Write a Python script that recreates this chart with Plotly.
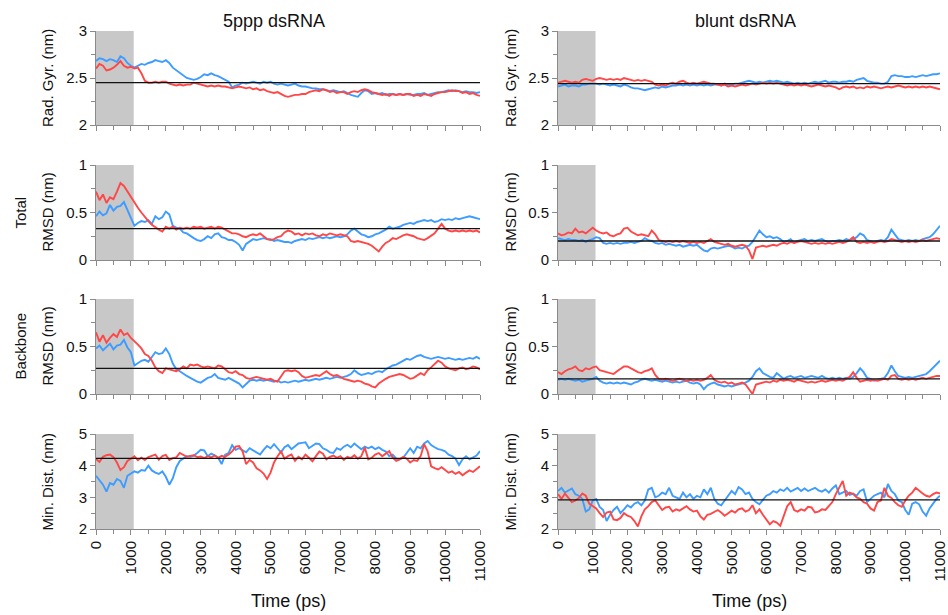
import plotly.graph_objects as go

# ---------------------------------------------------------------- data
time_ps = list(range(0, 11001, 100))
equil_end_ps = 1080

rg_5ppp_blue = [
    2.68, 2.71, 2.70, 2.68, 2.70, 2.69, 2.67, 2.73, 2.71, 2.66,
    2.63, 2.61, 2.63, 2.65, 2.64, 2.66, 2.67, 2.69, 2.68, 2.67,
    2.69, 2.66, 2.61, 2.58, 2.56, 2.53, 2.50, 2.49, 2.48, 2.49,
    2.51, 2.54, 2.53, 2.55, 2.53, 2.52, 2.50, 2.48, 2.46, 2.40,
    2.42, 2.43, 2.45, 2.44, 2.45, 2.46, 2.45, 2.44, 2.46, 2.45,
    2.46, 2.44, 2.43, 2.44, 2.43, 2.42, 2.43, 2.44, 2.42, 2.41,
    2.41, 2.40, 2.39, 2.39, 2.38, 2.38, 2.37, 2.36, 2.37, 2.36,
    2.35, 2.36, 2.34, 2.32, 2.31, 2.30, 2.34, 2.37, 2.36, 2.33,
    2.34, 2.33, 2.34, 2.32, 2.33, 2.33, 2.32, 2.33, 2.32, 2.33,
    2.32, 2.32, 2.33, 2.33, 2.34, 2.32, 2.33, 2.34, 2.35, 2.35,
    2.36, 2.37, 2.36, 2.37, 2.36, 2.35, 2.36, 2.35, 2.35, 2.34, 2.35]
rg_5ppp_red = [
    2.60, 2.65, 2.63, 2.58, 2.59, 2.61, 2.64, 2.68, 2.63, 2.61,
    2.62, 2.60, 2.61, 2.55, 2.47, 2.45, 2.45, 2.46, 2.45, 2.46,
    2.46, 2.44, 2.43, 2.42, 2.43, 2.42, 2.43, 2.43, 2.45, 2.44,
    2.43, 2.42, 2.41, 2.42, 2.41, 2.42, 2.41, 2.41, 2.40, 2.39,
    2.40, 2.41, 2.40, 2.39, 2.40, 2.38, 2.39, 2.37, 2.38, 2.36,
    2.35, 2.34, 2.35, 2.33, 2.31, 2.30, 2.31, 2.32, 2.32, 2.33,
    2.33, 2.35, 2.36, 2.37, 2.36, 2.38, 2.37, 2.35, 2.36, 2.34,
    2.35, 2.35, 2.33, 2.35, 2.36, 2.35, 2.37, 2.38, 2.37, 2.35,
    2.34, 2.33, 2.32, 2.33, 2.31, 2.33, 2.32, 2.33, 2.32, 2.33,
    2.33, 2.31, 2.32, 2.31, 2.33, 2.32, 2.31, 2.33, 2.34, 2.35,
    2.35, 2.36, 2.37, 2.36, 2.36, 2.34, 2.35, 2.33, 2.34, 2.32, 2.31]
rg_blunt_blue = [
    2.41, 2.42, 2.43, 2.41, 2.42, 2.42, 2.41, 2.43, 2.43, 2.44,
    2.44, 2.44, 2.43, 2.44, 2.43, 2.42, 2.43, 2.42, 2.41, 2.43,
    2.42, 2.40, 2.39, 2.39, 2.38, 2.37, 2.38, 2.39, 2.40, 2.39,
    2.41, 2.40, 2.41, 2.42, 2.42, 2.43, 2.42, 2.43, 2.42, 2.43,
    2.42, 2.43, 2.42, 2.43, 2.42, 2.43, 2.43, 2.42, 2.44, 2.43,
    2.43, 2.44, 2.44, 2.45, 2.46, 2.47, 2.46, 2.45, 2.46, 2.45,
    2.46, 2.47, 2.46, 2.47, 2.46, 2.45, 2.46, 2.45, 2.44, 2.45,
    2.44, 2.45, 2.44, 2.45, 2.46, 2.45, 2.46, 2.47, 2.45, 2.46,
    2.46, 2.45, 2.46, 2.46, 2.47, 2.46, 2.48, 2.49, 2.50, 2.47,
    2.46, 2.45, 2.45, 2.44, 2.44, 2.46, 2.52, 2.53, 2.52, 2.52,
    2.51, 2.51, 2.52, 2.51, 2.52, 2.53, 2.52, 2.53, 2.54, 2.54, 2.55]
rg_blunt_red = [
    2.45, 2.46, 2.47, 2.46, 2.45, 2.46, 2.45, 2.48, 2.49, 2.48,
    2.47, 2.49, 2.50, 2.49, 2.48, 2.49, 2.48, 2.49, 2.48, 2.50,
    2.49, 2.48, 2.47, 2.48, 2.47, 2.48, 2.47, 2.46, 2.43, 2.42,
    2.43, 2.42, 2.44, 2.45, 2.44, 2.46, 2.47, 2.45, 2.44, 2.45,
    2.44, 2.45, 2.46, 2.45, 2.44, 2.44, 2.43, 2.42, 2.43, 2.41,
    2.42, 2.41, 2.42, 2.43, 2.42, 2.43, 2.44, 2.43, 2.44, 2.45,
    2.44, 2.45, 2.44, 2.45, 2.44, 2.43, 2.42, 2.43, 2.42, 2.43,
    2.42, 2.43, 2.42, 2.41, 2.42, 2.43, 2.42, 2.41, 2.42, 2.41,
    2.40, 2.38, 2.40, 2.41, 2.40, 2.41, 2.39, 2.40, 2.39, 2.41,
    2.40, 2.41, 2.40, 2.39, 2.40, 2.41, 2.40, 2.41, 2.42, 2.41,
    2.40, 2.41, 2.40, 2.41, 2.40, 2.41, 2.40, 2.41, 2.40, 2.39, 2.38]

trmsd_5ppp_blue = [
    0.46, 0.51, 0.47, 0.49, 0.58, 0.52, 0.56, 0.57, 0.61, 0.52,
    0.43, 0.36, 0.39, 0.41, 0.40, 0.42, 0.38, 0.46, 0.43, 0.45,
    0.51, 0.48, 0.36, 0.34, 0.33, 0.29, 0.28, 0.25, 0.23, 0.21,
    0.20, 0.22, 0.25, 0.23, 0.27, 0.28, 0.24, 0.23, 0.21, 0.21,
    0.19, 0.16, 0.10, 0.17, 0.20, 0.22, 0.21, 0.22, 0.23, 0.22,
    0.22, 0.20, 0.21, 0.20, 0.19, 0.19, 0.18, 0.20, 0.21, 0.22,
    0.21, 0.23, 0.22, 0.23, 0.24, 0.23, 0.24, 0.23, 0.24, 0.25,
    0.24, 0.25, 0.27, 0.31, 0.33, 0.30, 0.27, 0.26, 0.24, 0.25,
    0.27, 0.28, 0.30, 0.32, 0.35, 0.33, 0.34, 0.35, 0.37, 0.38,
    0.39, 0.38, 0.40, 0.41, 0.42, 0.41, 0.42, 0.40, 0.41, 0.43,
    0.42, 0.43, 0.42, 0.44, 0.43, 0.44, 0.45, 0.46, 0.45, 0.44, 0.43]
trmsd_5ppp_red = [
    0.72, 0.63, 0.69, 0.60, 0.66, 0.64, 0.72, 0.81, 0.78, 0.72,
    0.66, 0.61, 0.55, 0.50, 0.45, 0.41, 0.37, 0.34, 0.32, 0.30,
    0.35, 0.33, 0.35, 0.32, 0.34, 0.33, 0.34, 0.33, 0.35, 0.34,
    0.35, 0.33, 0.34, 0.35, 0.33, 0.35, 0.34, 0.32, 0.30, 0.28,
    0.28, 0.27, 0.25, 0.24, 0.26, 0.27, 0.26, 0.28, 0.25, 0.22,
    0.21, 0.22, 0.24, 0.25, 0.29, 0.31, 0.30, 0.27, 0.28, 0.26,
    0.28, 0.27, 0.28, 0.26, 0.25, 0.27, 0.26, 0.28, 0.27, 0.26,
    0.27, 0.26, 0.25, 0.20, 0.19, 0.20, 0.19, 0.18, 0.17, 0.15,
    0.12, 0.09, 0.14, 0.18, 0.20, 0.23, 0.22, 0.24, 0.26, 0.27,
    0.26, 0.25, 0.23, 0.22, 0.21, 0.23, 0.26, 0.28, 0.33, 0.38,
    0.33, 0.31, 0.30, 0.31, 0.30, 0.31, 0.30, 0.31, 0.30, 0.31, 0.29]
trmsd_blunt_blue = [
    0.23, 0.22, 0.21, 0.22, 0.21, 0.21, 0.20, 0.21, 0.19, 0.21,
    0.22, 0.24, 0.23, 0.18, 0.17, 0.18, 0.17, 0.18, 0.17, 0.18,
    0.18, 0.19, 0.18, 0.19, 0.20, 0.23, 0.21, 0.20, 0.18, 0.17,
    0.18, 0.16, 0.17, 0.16, 0.15, 0.16, 0.14, 0.15, 0.16, 0.15,
    0.16, 0.13, 0.10, 0.09, 0.12, 0.13, 0.12, 0.13, 0.14, 0.15,
    0.14, 0.12, 0.13, 0.12, 0.14, 0.15, 0.19, 0.25, 0.31, 0.27,
    0.24, 0.25, 0.23, 0.24, 0.22, 0.19, 0.20, 0.22, 0.18, 0.20,
    0.21, 0.22, 0.20, 0.21, 0.20, 0.21, 0.22, 0.20, 0.19, 0.20,
    0.20, 0.21, 0.20, 0.22, 0.21, 0.22, 0.24, 0.28, 0.26, 0.21,
    0.20, 0.19, 0.20, 0.21, 0.20, 0.24, 0.32, 0.27, 0.22, 0.21,
    0.20, 0.21, 0.20, 0.21, 0.20, 0.22, 0.23, 0.24, 0.27, 0.31, 0.36]
trmsd_blunt_red = [
    0.28, 0.26, 0.27, 0.29, 0.28, 0.33, 0.29, 0.30, 0.28, 0.31,
    0.34, 0.31, 0.29, 0.28, 0.29, 0.26, 0.25, 0.27, 0.28, 0.33,
    0.34, 0.30, 0.28, 0.26, 0.27, 0.26, 0.25, 0.31, 0.27, 0.21,
    0.20, 0.19, 0.20, 0.19, 0.20, 0.19, 0.20, 0.19, 0.18, 0.19,
    0.18, 0.19, 0.18, 0.20, 0.22, 0.19, 0.18, 0.17, 0.16, 0.17,
    0.15, 0.14, 0.15, 0.16, 0.15, 0.10, 0.01, 0.13, 0.14, 0.15,
    0.14, 0.15, 0.16, 0.15, 0.17, 0.18, 0.17, 0.19, 0.18, 0.19,
    0.20, 0.19, 0.18, 0.17, 0.18, 0.17, 0.18, 0.17, 0.18, 0.17,
    0.18, 0.19, 0.18, 0.19, 0.21, 0.24, 0.19, 0.18, 0.19, 0.18,
    0.19, 0.18, 0.19, 0.20, 0.19, 0.20, 0.22, 0.21, 0.20, 0.19,
    0.20, 0.19, 0.20, 0.19, 0.20, 0.21, 0.20, 0.21, 0.22, 0.23, 0.22]

bbrmsd_5ppp_blue = [
    0.48, 0.51, 0.46, 0.50, 0.53, 0.47, 0.51, 0.52, 0.57, 0.49,
    0.44, 0.30, 0.33, 0.35, 0.36, 0.34, 0.39, 0.44, 0.42, 0.43,
    0.48, 0.42, 0.32, 0.26, 0.24, 0.21, 0.19, 0.17, 0.15, 0.13,
    0.12, 0.15, 0.17, 0.18, 0.21, 0.17, 0.16, 0.15, 0.17, 0.15,
    0.13, 0.11, 0.07, 0.11, 0.14, 0.15, 0.14, 0.15, 0.14, 0.15,
    0.14, 0.13, 0.14, 0.12, 0.13, 0.12, 0.13, 0.14, 0.13, 0.14,
    0.15, 0.14, 0.15, 0.16, 0.15, 0.16, 0.17, 0.16, 0.17, 0.18,
    0.17, 0.18, 0.19, 0.21, 0.25, 0.22, 0.20, 0.21, 0.22, 0.21,
    0.23, 0.24, 0.23, 0.26, 0.28, 0.30, 0.31, 0.33, 0.35, 0.37,
    0.36, 0.38, 0.40, 0.41, 0.39, 0.38, 0.37, 0.38, 0.39, 0.38,
    0.37, 0.38, 0.37, 0.36, 0.37, 0.36, 0.37, 0.38, 0.37, 0.39, 0.37]
bbrmsd_5ppp_red = [
    0.65, 0.55, 0.62, 0.54, 0.59, 0.63, 0.60, 0.68, 0.62, 0.64,
    0.59, 0.56, 0.52, 0.48, 0.42, 0.40, 0.35, 0.28, 0.24, 0.22,
    0.27, 0.26, 0.25, 0.24, 0.26, 0.29, 0.27, 0.31, 0.30, 0.31,
    0.29, 0.28, 0.29, 0.28, 0.27, 0.30, 0.29, 0.26, 0.23, 0.22,
    0.24, 0.21, 0.20, 0.17, 0.16, 0.17, 0.18, 0.17, 0.16, 0.15,
    0.16, 0.14, 0.13, 0.19, 0.24, 0.25, 0.24, 0.25, 0.23, 0.19,
    0.17, 0.18, 0.19, 0.20, 0.19, 0.22, 0.24, 0.21, 0.19, 0.20,
    0.18, 0.16, 0.15, 0.14, 0.13, 0.14, 0.13, 0.11, 0.10, 0.08,
    0.07, 0.11, 0.14, 0.16, 0.18, 0.19, 0.20, 0.21, 0.20, 0.18,
    0.16, 0.17, 0.20, 0.22, 0.20, 0.25, 0.28, 0.31, 0.35, 0.33,
    0.29, 0.27, 0.26, 0.25, 0.27, 0.28, 0.26, 0.27, 0.29, 0.28, 0.26]
bbrmsd_blunt_blue = [
    0.15, 0.16, 0.15, 0.16, 0.15, 0.14, 0.15, 0.13, 0.14, 0.15,
    0.16, 0.18, 0.14, 0.12, 0.11, 0.12, 0.11, 0.12, 0.11, 0.12,
    0.11, 0.10, 0.12, 0.13, 0.15, 0.16, 0.15, 0.14, 0.15, 0.14,
    0.13, 0.14, 0.13, 0.12, 0.13, 0.12, 0.13, 0.14, 0.12, 0.11,
    0.12, 0.10, 0.05, 0.09, 0.11, 0.12, 0.10, 0.09, 0.08, 0.09,
    0.08, 0.09, 0.10, 0.11, 0.12, 0.14, 0.18, 0.24, 0.27, 0.22,
    0.20, 0.18, 0.17, 0.22, 0.19, 0.16, 0.18, 0.19, 0.17, 0.18,
    0.19, 0.17, 0.18, 0.19, 0.18, 0.17, 0.19, 0.17, 0.16, 0.17,
    0.16, 0.17, 0.16, 0.17, 0.16, 0.18, 0.22, 0.27, 0.23, 0.17,
    0.16, 0.14, 0.15, 0.16, 0.17, 0.22, 0.30, 0.24, 0.19, 0.18,
    0.17, 0.18, 0.17, 0.18, 0.19, 0.20, 0.21, 0.24, 0.28, 0.32, 0.35]
bbrmsd_blunt_red = [
    0.23, 0.21, 0.24, 0.26, 0.27, 0.29, 0.25, 0.24, 0.27, 0.26,
    0.28, 0.29, 0.25, 0.24, 0.23, 0.22, 0.21, 0.24, 0.27, 0.29,
    0.29, 0.27, 0.25, 0.23, 0.22, 0.24, 0.25, 0.27, 0.20, 0.16,
    0.15, 0.16, 0.15, 0.14, 0.15, 0.16, 0.15, 0.14, 0.15, 0.14,
    0.15, 0.14, 0.15, 0.17, 0.20, 0.15, 0.13, 0.12, 0.13, 0.11,
    0.12, 0.10, 0.11, 0.12, 0.10, 0.05, 0.00, 0.10, 0.11, 0.12,
    0.13, 0.12, 0.14, 0.13, 0.15, 0.14, 0.15, 0.14, 0.13, 0.15,
    0.14, 0.13, 0.12, 0.13, 0.12, 0.13, 0.14, 0.13, 0.14, 0.15,
    0.14, 0.15, 0.14, 0.16, 0.18, 0.23, 0.17, 0.13, 0.14, 0.15,
    0.14, 0.15, 0.14, 0.15, 0.16, 0.15, 0.19, 0.20, 0.16, 0.15,
    0.16, 0.15, 0.16, 0.15, 0.16, 0.17, 0.16, 0.17, 0.18, 0.19, 0.19]

mindist_5ppp_blue = [
    3.68, 3.55, 3.40, 3.18, 3.45, 3.40, 3.58, 3.52, 3.30, 3.68,
    3.74, 3.82, 3.78, 3.86, 3.84, 4.00, 3.85, 3.78, 3.74, 3.82,
    3.65, 3.40, 3.60, 3.95, 4.15, 4.22, 4.30, 4.28, 4.32, 4.40,
    4.50, 4.48, 4.30, 4.38, 4.33, 4.25, 4.05, 4.35, 4.40, 4.65,
    4.50, 4.55, 4.48, 4.42, 4.55, 4.48, 4.40, 4.35, 4.50, 4.62,
    4.55, 4.68, 4.55, 4.42, 4.58, 4.65, 4.52, 4.60, 4.70, 4.72,
    4.74, 4.55, 4.62, 4.70, 4.68, 4.55, 4.50, 4.42, 4.40, 4.55,
    4.50, 4.60, 4.66, 4.58, 4.70, 4.62, 4.52, 4.60, 4.55, 4.60,
    4.52, 4.58, 4.50, 4.45, 4.30, 4.35, 4.22, 4.20, 4.25, 4.40,
    4.55, 4.40, 4.60, 4.55, 4.70, 4.78, 4.65, 4.58, 4.52, 4.50,
    4.45, 4.35, 4.30, 4.22, 4.02, 4.20, 4.30, 4.20, 4.25, 4.32, 4.46]
mindist_5ppp_red = [
    4.21, 4.12, 4.28, 4.33, 4.35, 4.27, 4.10, 3.86, 3.95, 4.15,
    4.22, 4.30, 4.17, 4.25, 4.18, 4.27, 4.31, 4.35, 4.19, 4.30,
    4.34, 4.18, 4.24, 4.26, 4.40, 4.35, 4.28, 4.31, 4.33, 4.27,
    4.29, 4.24, 4.30, 4.26, 4.32, 4.25, 4.31, 4.28, 4.35, 4.45,
    4.60, 4.62, 4.45, 4.05, 4.18, 4.10, 3.92, 3.85, 3.75, 3.58,
    3.78, 4.10, 4.30, 4.45, 4.22, 4.30, 4.35, 4.15, 4.28, 4.20,
    4.35, 4.25, 4.14, 4.30, 4.45, 4.38, 4.20, 4.28, 4.32, 4.25,
    4.30, 4.18, 4.28, 4.24, 4.33, 4.22, 4.30, 4.57, 4.20, 4.25,
    4.35, 4.40, 4.30, 4.38, 4.46, 4.25, 4.15, 4.20, 4.28, 4.22,
    4.10, 4.18, 4.15, 4.30, 4.68, 4.45, 3.98, 3.92, 3.88, 3.95,
    3.85, 3.78, 3.82, 3.74, 3.80, 3.70, 3.78, 3.85, 3.80, 3.90, 3.98]
mindist_blunt_blue = [
    3.20, 3.30, 3.15, 3.22, 3.28, 3.10, 3.05, 2.95, 2.55, 2.62,
    2.90, 2.95, 2.70, 2.60, 2.25, 2.45, 2.60, 2.70, 2.50, 2.62,
    2.75, 2.68, 2.80, 2.85, 2.75, 2.90, 3.25, 3.30, 3.00, 3.05,
    3.15, 3.10, 3.30, 3.05, 3.00, 2.95, 3.15, 3.00, 3.10, 2.95,
    3.05, 3.00, 3.25, 3.10, 3.30, 2.95, 2.80, 2.75, 2.90, 3.05,
    3.20, 3.10, 3.32, 3.25, 3.10, 3.15, 2.95, 2.85, 2.78, 2.92,
    3.05, 3.10, 3.20, 3.15, 3.25, 3.20, 3.30, 3.18, 3.25, 3.30,
    3.20, 3.28, 3.20, 3.26, 3.30, 3.22, 3.18, 3.25, 3.15, 3.28,
    3.38, 3.10, 3.15, 3.20, 3.08, 3.12, 3.05, 3.20, 3.25, 2.85,
    2.95, 3.05, 3.10, 3.15, 3.00, 3.42, 3.20, 3.10, 2.90, 2.85,
    2.60, 2.45, 2.80, 2.85, 2.78, 2.55, 2.42, 2.65, 2.80, 2.95, 3.05]
mindist_blunt_red = [
    3.10, 2.95, 3.12, 2.98, 2.85, 2.90, 2.98, 3.12, 3.05, 2.80,
    2.72, 2.65, 2.50, 2.38, 2.52, 2.55, 2.30, 2.28, 2.35, 2.50,
    2.42, 2.38, 2.25, 2.08, 2.40, 2.62, 2.72, 2.85, 2.90, 2.75,
    2.60, 2.68, 2.70, 2.55, 2.62, 2.58, 2.66, 2.72, 2.62, 2.55,
    2.58, 2.40, 2.30, 2.45, 2.48, 2.55, 2.60, 2.52, 2.42, 2.50,
    2.58, 2.52, 2.62, 2.65, 2.55, 2.60, 2.75, 2.50, 2.62, 2.45,
    2.30, 2.15, 2.25, 2.20, 2.10, 2.45, 2.72, 2.85, 2.60, 2.55,
    2.62, 2.58, 2.70, 2.68, 2.52, 2.55, 2.62, 2.60, 2.72, 2.85,
    3.10, 3.30, 3.52, 3.05, 3.15, 3.10, 3.00, 2.95, 2.85, 2.80,
    2.65, 2.58, 2.85, 2.90, 3.30, 3.05, 2.98, 2.85, 2.75, 2.70,
    2.90, 3.05, 3.15, 3.30, 3.20, 3.12, 3.05, 3.02, 3.10, 3.15, 3.12]

# average levels drawn as horizontal reference lines
ref_levels = {
    "rg_5ppp": 2.45, "rg_blunt": 2.44,
    "trmsd_5ppp": 0.33, "trmsd_blunt": 0.20,
    "bbrmsd_5ppp": 0.27, "bbrmsd_blunt": 0.16,
    "mindist_5ppp": 4.23, "mindist_blunt": 2.92,
}

column_titles = ["5ppp dsRNA", "blunt dsRNA"]
x_ticks = [0, 1000, 2000, 3000, 4000, 5000, 6000, 7000, 8000, 9000, 10000, 11000]
x_tick_labels = [str(v) for v in x_ticks]

# ---------------------------------------------------------------- layout helpers
W, H = 948, 615
BLUE = "#3d9cff"
RED = "#ff4747"
AXIS = "#8a8a8a"
TEXT = "#111111"
FONT = "Liberation Sans, Arial, sans-serif"

col_px = [(96, 480), (558, 940)]
row_px = [(31, 125), (165, 260), (299, 394), (434, 529)]
col_title_px = [274, 745]

rows = [
    dict(key="rg", rng=[2, 3], dtick=0.5, minor=0.25,
         titles=[["Rad. Gyr. (nm)"], ["Rad. Gyr. (nm)"]]),
    dict(key="trmsd", rng=[0, 1], dtick=0.5, minor=0.25,
         titles=[["Total", "RMSD (nm)"], ["RMSD (nm)"]]),
    dict(key="bbrmsd", rng=[0, 1], dtick=0.5, minor=0.25,
         titles=[["Backbone", "RMSD (nm)"], ["RMSD (nm)"]]),
    dict(key="mindist", rng=[2, 5], dtick=1, minor=0.5,
         titles=[["Min. Dist. (nm)"], ["Min. Dist. (nm)"]]),
]
series = {
    "rg_5ppp": (rg_5ppp_blue, rg_5ppp_red),
    "rg_blunt": (rg_blunt_blue, rg_blunt_red),
    "trmsd_5ppp": (trmsd_5ppp_blue, trmsd_5ppp_red),
    "trmsd_blunt": (trmsd_blunt_blue, trmsd_blunt_red),
    "bbrmsd_5ppp": (bbrmsd_5ppp_blue, bbrmsd_5ppp_red),
    "bbrmsd_blunt": (bbrmsd_blunt_blue, bbrmsd_blunt_red),
    "mindist_5ppp": (mindist_5ppp_blue, mindist_5ppp_red),
    "mindist_blunt": (mindist_blunt_blue, mindist_blunt_red),
}

fig = go.Figure()
layout = {}
shapes = []
annotations = []

idx = 0
for r, row in enumerate(rows):
    for c, system in enumerate(["5ppp", "blunt"]):
        idx += 1
        sfx = "" if idx == 1 else str(idx)
        xa, ya = "x" + sfx, "y" + sfx
        x0, x1 = col_px[c]
        y0, y1 = row_px[r]
        last_row = r == len(rows) - 1

        layout["xaxis" + sfx] = dict(
            domain=[x0 / W, x1 / W], anchor=ya, range=[0, 11000],
            tickvals=x_ticks, ticktext=x_tick_labels,
            ticks="outside", ticklen=5, tickcolor=AXIS,
            showticklabels=last_row, tickangle=-90,
            tickfont=dict(size=15, family=FONT, color=TEXT),
            minor=dict(tickvals=[v + 500 for v in x_ticks[:-1]], ticks="outside",
                       ticklen=4, tickcolor=AXIS),
            showline=True, linecolor=AXIS, linewidth=1,
            showgrid=False, zeroline=False, automargin=False,
        )
        layout["yaxis" + sfx] = dict(
            domain=[1 - y1 / H, 1 - y0 / H], anchor=xa, range=row["rng"],
            dtick=row["dtick"], tick0=row["rng"][0], ticks="outside", ticklen=5,
            tickcolor=AXIS, tickfont=dict(size=15, family=FONT, color=TEXT),
            minor=dict(dtick=row["minor"], tick0=row["rng"][0], ticks="outside",
                       ticklen=4, tickcolor=AXIS),
            showline=True, linecolor=AXIS, linewidth=1,
            showgrid=False, zeroline=False, automargin=False,
        )

        # equilibration window
        shapes.append(dict(type="rect", xref=xa, yref=ya + " domain",
                           x0=0, x1=equil_end_ps, y0=0, y1=1,
                           fillcolor="#c8c8c8", line=dict(width=0), layer="below"))

        name = f"{row['key']}_{system}"
        blue, red = series[name]
        fig.add_trace(go.Scatter(x=time_ps, y=blue, mode="lines", xaxis=xa, yaxis=ya,
                                 line=dict(color=BLUE, width=1.9), showlegend=False))
        fig.add_trace(go.Scatter(x=time_ps, y=red, mode="lines", xaxis=xa, yaxis=ya,
                                 line=dict(color=RED, width=1.9), showlegend=False))
        lvl = ref_levels[name]
        fig.add_trace(go.Scatter(x=[0, 11000], y=[lvl, lvl], mode="lines",
                                 xaxis=xa, yaxis=ya,
                                 line=dict(color=TEXT, width=1.3), showlegend=False))

        # y-axis titles
        yc = 1 - (y0 + y1) / 2 / H
        lines = row["titles"][c]
        base_x = 47 if c == 0 else 510
        for k, txt in enumerate(reversed(lines)):
            annotations.append(dict(
                text=txt, xref="paper", yref="paper",
                x=(base_x - 27 * k) / W, y=yc, textangle=-90,
                showarrow=False, xanchor="center", yanchor="middle",
                font=dict(size=15, family=FONT, color=TEXT)))

        if r == 0:
            annotations.append(dict(
                text=column_titles[c], xref="paper", yref="paper",
                x=col_title_px[c] / W, y=1 - 21 / H, showarrow=False,
                xanchor="center", yanchor="middle",
                font=dict(size=18, family=FONT, color=TEXT)))
        if last_row:
            annotations.append(dict(
                text="Time (ps)", xref="paper", yref="paper",
                x=(x0 + x1) / 2 / W, y=1 - 601 / H, showarrow=False,
                xanchor="center", yanchor="middle",
                font=dict(size=18, family=FONT, color=TEXT)))

fig.update_layout(
    width=W, height=H,
    margin=dict(l=0, r=0, t=0, b=0),
    paper_bgcolor="white", plot_bgcolor="white",
    shapes=shapes, annotations=annotations,
    font=dict(family=FONT),
    **layout,
)

fig.write_html("out.html")
